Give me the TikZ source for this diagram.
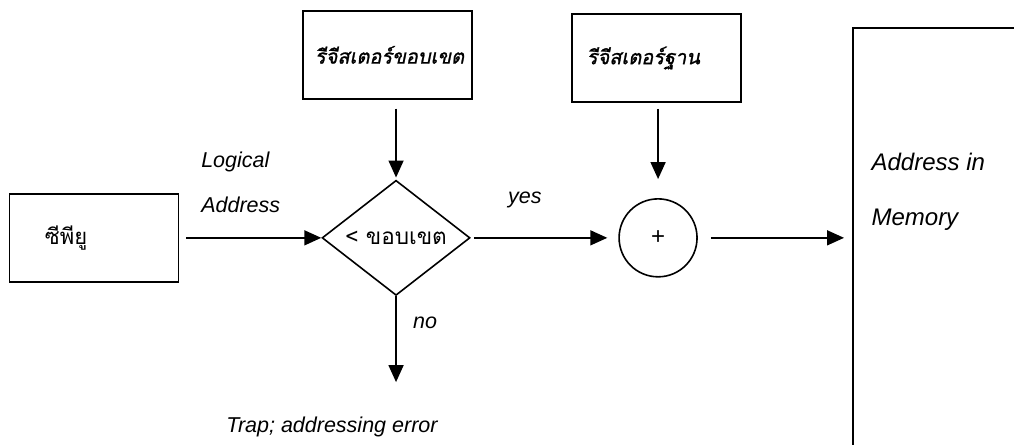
\documentclass[tikz,border=0pt]{standalone}
\usepackage{fontspec}
\setmainfont{Liberation Sans}
\newfontfamily\thaifont[Script=Thai]{Loma}
\newfontfamily\thaiitfont[Script=Thai,FakeSlant=0.2,FakeBold=1.2]{Loma}
\usepackage{tikz}
\usetikzlibrary{shapes.geometric, arrows.meta, positioning}

\begin{document}
\begin{tikzpicture}[
    regbox/.style={draw, line width=1.6pt, minimum width=5.94cm, minimum height=3.09cm},
    flow/.style={-{Triangle[length=17pt, width=15pt]}, line width=1.6pt},
    lbl/.style={font=\fontsize{21.5}{25.8}\selectfont\itshape},
  ]
    \useasboundingbox (0,0) rectangle (35.64,15.64);
    \clip (0,0) rectangle (35.64,15.64);

    % CPU
    \node[regbox, text width=3.44cm, inner xsep=1.23cm, font=\thaifont\fontsize{22}{26}\selectfont] (cpu) at (3.30,7.28) {ซีพียู};

    % Registers
    \node[regbox, text width=145pt, inner xsep=12pt, font=\thaiitfont\fontsize{20}{24}\selectfont] (limitreg) at (13.62,13.71) {รีจีสเตอร์ขอบเขต};
    \node[regbox, text width=139pt, inner xsep=15pt, font=\thaiitfont\fontsize{20}{24}\selectfont] (basereg) at (23.07,13.60) {รีจีสเตอร์ฐาน};

    % Check and adder
    \node[diamond, draw, line width=1.6pt, inner sep=0pt, minimum width=5.20cm, minimum height=3.69cm, font=\thaifont\fontsize{22.5}{26}\selectfont] (check) at (13.92,7.28) {< ขอบเขต};
    \node[circle, draw, line width=1.6pt, minimum size=2.74cm, font=\fontsize{24}{28}\selectfont] (adder) at (23.13,7.28) {+};

    % Memory
    \node[draw, line width=1.6pt, minimum width=5.87cm, minimum height=14.84cm] (mem) at (32.91,7.24) {};
    \node[align=left, anchor=west, font=\fontsize{24}{28.8}\selectfont\itshape] (memtext) at (30.51,8.89) {Address in\\[26pt]Memory};

    % Labels
    \node[lbl, align=left, anchor=west] (logaddr) at (6.95,9.23) {Logical\\[19pt]Address};
    \node[lbl] (yes) at (18.45,8.61) {yes};
    \node[lbl] (no) at (14.94,4.29) {no};
    \node[lbl] (trap) at (11.67,0.63) {Trap; addressing error};
    \coordinate (trapin) at (13.92,2.21);

    % Connections
    \draw[flow, shorten <=7pt] (cpu) -- (check);
    \draw[flow, shorten <=9pt, shorten >=2pt] (limitreg.south -| check.north) -- (check.north);
    \draw[flow, shorten <=3pt, shorten >=11pt] (check) -- (adder);
    \draw[flow, shorten <=6pt, shorten >=19pt] (basereg.south -| adder.north) -- (adder.north);
    \draw[flow, shorten <=13pt, shorten >=8pt] (adder) -- (adder -| mem.west);
    \draw[flow] (check.south) -- (trapin);

\end{tikzpicture}
\end{document}
